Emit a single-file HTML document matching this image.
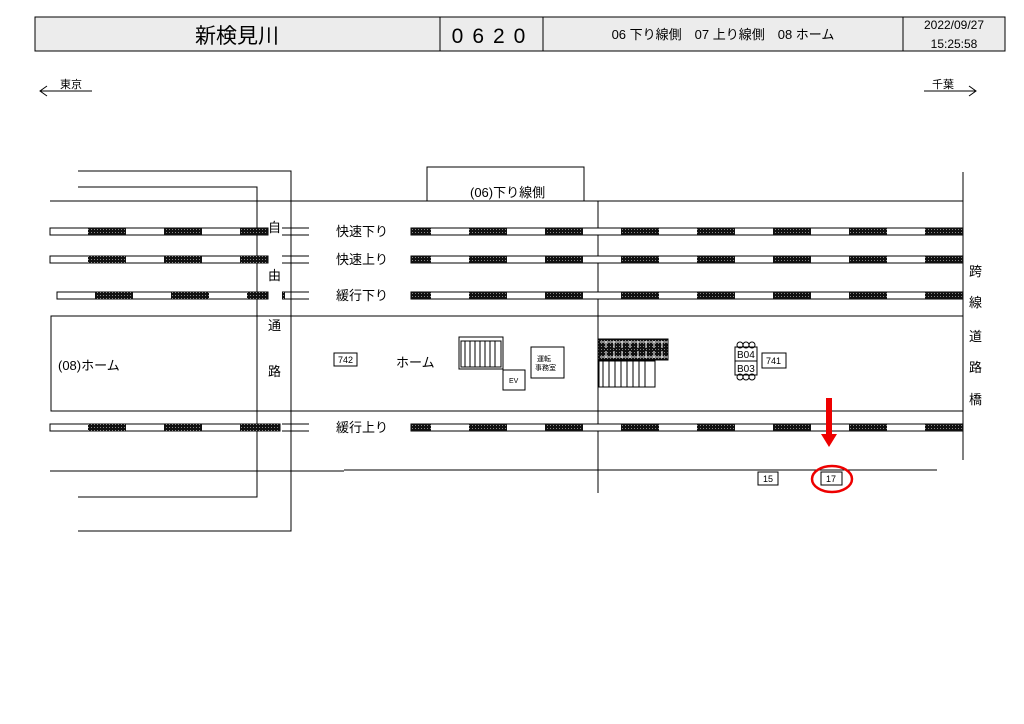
<!DOCTYPE html>
<html><head><meta charset="utf-8"><style>
body{margin:0;background:#fff;}
svg{display:block;font-family:"Liberation Sans","Noto Sans CJK JP",sans-serif;}
</style></head><body>
<svg width="1024" height="724" viewBox="0 0 1024 724" xmlns="http://www.w3.org/2000/svg">
<defs>
<pattern id="dot" width="3" height="3" patternUnits="userSpaceOnUse">
<rect width="3" height="3" fill="#111"/><rect x="1" y="1" width="1" height="1" fill="#888"/>
</pattern>
</defs>
<rect x="35" y="17" width="970" height="34" fill="#ececec" stroke="#000" stroke-width="1"/>
<line x1="440" y1="17" x2="440" y2="51" stroke="#000"/>
<line x1="543" y1="17" x2="543" y2="51" stroke="#000"/>
<line x1="903" y1="17" x2="903" y2="51" stroke="#000"/>
<text x="237" y="43" font-size="21" text-anchor="middle">新検見川</text>
<text x="493" y="43" font-size="21" text-anchor="middle" letter-spacing="9">0620</text>
<text x="723" y="39" font-size="13" text-anchor="middle">06 下り線側　07 上り線側　08 ホーム</text>
<text x="954" y="29" font-size="12" text-anchor="middle">2022/09/27</text>
<text x="954" y="48" font-size="12" text-anchor="middle">15:25:58</text>
<text x="60" y="88" font-size="11">東京</text>
<line x1="40" y1="91" x2="92" y2="91" stroke="#000"/>
<polyline points="47,86 40,91 47,96" fill="none" stroke="#000"/>
<text x="932" y="88" font-size="11">千葉</text>
<line x1="924" y1="91" x2="976" y2="91" stroke="#000"/>
<polyline points="969,86 976,91 969,96" fill="none" stroke="#000"/>
<g stroke="#000" stroke-width="1" fill="none">
<polyline points="78,171 291,171 291,531 78,531"/>
<polyline points="78,187 257,187 257,497 78,497"/>
<line x1="50" y1="201" x2="963" y2="201"/>
<rect x="427" y="167" width="157" height="34"/>
<line x1="598" y1="201" x2="598" y2="493"/>
<line x1="963" y1="172" x2="963" y2="460"/>
<polyline points="963,316 51,316 51,411 963,411"/>
<line x1="50" y1="471" x2="344" y2="471"/>
<line x1="344" y1="470" x2="937" y2="470"/>
<line x1="282" y1="228" x2="309" y2="228"/><line x1="282" y1="235" x2="309" y2="235"/>
<line x1="282" y1="256" x2="309" y2="256"/><line x1="282" y1="263" x2="309" y2="263"/>
<line x1="282" y1="292" x2="309" y2="292"/><line x1="282" y1="299" x2="309" y2="299"/>
<line x1="282" y1="424" x2="309" y2="424"/><line x1="282" y1="431" x2="309" y2="431"/>
</g>
<g stroke="#000" stroke-width="1">
<rect x="50" y="228" width="218" height="7" fill="#fff"/>
<rect x="411" y="228" width="552" height="7" fill="#fff"/>
<rect x="50" y="256" width="218" height="7" fill="#fff"/>
<rect x="411" y="256" width="552" height="7" fill="#fff"/>
<rect x="57" y="292" width="211" height="7" fill="#fff"/>
<rect x="411" y="292" width="552" height="7" fill="#fff"/>
<rect x="50" y="424" width="230" height="7" fill="#fff"/>
<rect x="411" y="424" width="552" height="7" fill="#fff"/>
</g>
<g fill="url(#dot)">
<rect x="88" y="228" width="38" height="7"/><rect x="164" y="228" width="38" height="7"/><rect x="240" y="228" width="28" height="7"/>
<rect x="88" y="256" width="38" height="7"/><rect x="164" y="256" width="38" height="7"/><rect x="240" y="256" width="28" height="7"/>
<rect x="95" y="292" width="38" height="7"/><rect x="171" y="292" width="38" height="7"/><rect x="247" y="292" width="21" height="7"/><rect x="282" y="292" width="3" height="7"/>
<rect x="88" y="424" width="38" height="7"/><rect x="164" y="424" width="38" height="7"/><rect x="240" y="424" width="40" height="7"/>
<g id="rt">
<rect x="411" y="228" width="20" height="7"/><rect x="469" y="228" width="38" height="7"/><rect x="545" y="228" width="38" height="7"/><rect x="621" y="228" width="38" height="7"/><rect x="697" y="228" width="38" height="7"/><rect x="773" y="228" width="38" height="7"/><rect x="849" y="228" width="38" height="7"/><rect x="925" y="228" width="38" height="7"/>
</g>
<use href="#rt" y="28"/><use href="#rt" y="64"/><use href="#rt" y="196"/>
</g>
<g font-size="13">
<text x="336" y="236">快速下り</text>
<text x="336" y="264">快速上り</text>
<text x="336" y="300">緩行下り</text>
<text x="336" y="432">緩行上り</text>
<text x="268" y="232">自</text>
<text x="268" y="280">由</text>
<text x="268" y="330">通</text>
<text x="268" y="376">路</text>
<text x="969" y="276">跨</text>
<text x="969" y="307">線</text>
<text x="969" y="341">道</text>
<text x="969" y="372">路</text>
<text x="969" y="404">橋</text>
<text x="58" y="370">(08)ホーム</text>
<text x="396" y="367">ホーム</text>
<text x="470" y="197">(06)下り線側</text>
</g>
<g stroke="#000" fill="#fff">
<rect x="334" y="353" width="23" height="13"/>
<rect x="762" y="353" width="24" height="15"/>
<rect x="758" y="472" width="20" height="13"/>
<rect x="821" y="472" width="21" height="13"/>
<rect x="531" y="347" width="33" height="31"/>
<rect x="503" y="370" width="22" height="20"/>
<rect x="459" y="337" width="44" height="32"/>
<rect x="461" y="341" width="40" height="26"/>
<rect x="598" y="339" width="70" height="21" fill="url(#dot)"/>
<rect x="599" y="361" width="56" height="26"/>
<rect x="735" y="347" width="22" height="28"/>
</g>
<g stroke="#000" fill="none">
<path d="M465 341v26M470 341v26M475 341v26M480 341v26M485 341v26M490 341v26M495 341v26"/>
<path d="M603 361v26M609 361v26M615 361v26M621 361v26M627 361v26M633 361v26M639 361v26M645 361v26"/>
<path d="M600 342h68M600 357h68" stroke="#fff"/>
<path d="M606 341v7M614 341v7M622 341v7M630 341v7M638 341v7M646 341v7M654 341v7M662 341v7M606 351v7M614 351v7M622 351v7M630 351v7M638 351v7M646 351v7M654 351v7M662 351v7" stroke="#fff"/>
<line x1="735" y1="361" x2="757" y2="361"/>
<circle cx="740" cy="345" r="3"/><circle cx="746" cy="345" r="3"/><circle cx="752" cy="345" r="3"/>
<circle cx="740" cy="377" r="3"/><circle cx="746" cy="377" r="3"/><circle cx="752" cy="377" r="3"/>
</g>
<g font-size="9">
<text x="338" y="363">742</text>
<text x="766" y="364">741</text>
<text x="763" y="482">15</text>
<text x="826" y="482">17</text>
<text x="509" y="383" font-size="7">EV</text>
<text x="537" y="361" font-size="7">運転</text>
<text x="535" y="370" font-size="7">事務室</text>
<text x="737" y="358" font-size="10">B04</text>
<text x="737" y="372" font-size="10">B03</text>
</g>
<rect x="826" y="398" width="6" height="37" fill="#e00"/>
<polygon points="821,434 837,434 829,447" fill="#e00"/>
<ellipse cx="832" cy="479" rx="20" ry="13" fill="none" stroke="#e00" stroke-width="2.5"/>
</svg>
</body></html>
